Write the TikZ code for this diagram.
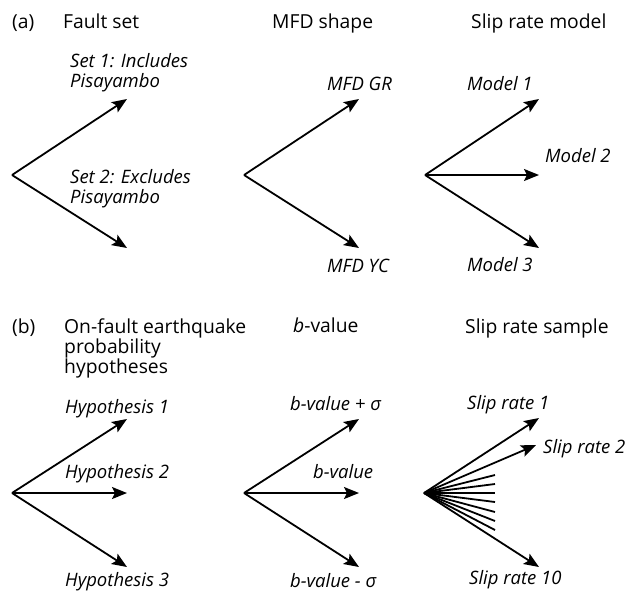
\documentclass[tikz,border=0pt]{standalone}
\usepackage{fontspec}
\setmainfont{Open Sans}
\usetikzlibrary{arrows.meta}
\tikzset{
  ttl/.style={anchor=base west, inner sep=0pt, font=\fontsize{19.3}{21}\selectfont},
  lbl/.style={anchor=base west, inner sep=0pt, font=\fontsize{18.5}{20}\selectfont\itshape},
  arr/.style={line width=1.8pt, -{Stealth[length=15pt,width=12pt,inset=3pt]}},
  ln/.style={line width=1.8pt},
}
\newcommand{\sig}{σ}
\begin{document}
\begin{tikzpicture}[x=1pt,y=-1pt]
\useasboundingbox (0,0) rectangle (628,595);
% panel (a) headers
\node[ttl] (pa) at (12,28) {(a)};
\node[ttl] (h1) at (63,28) {Fault set};
\node[ttl] (h2) at (272,28) {MFD shape};
\node[ttl] (h3) at (471,28) {Slip rate model};
% fault set
\coordinate (fa) at (12,175);
\coordinate (fa1) at (127,99);
\coordinate (fa2) at (127,248);
\draw[arr] (fa) -- (fa1);
\draw[arr] (fa) -- (fa2);
\node[lbl] (s1) at (70,67) {Set 1: Includes};
\node[lbl] (s1b) at (70,87) {Pisayambo};
\node[lbl] (s2) at (70,183) {Set 2: Excludes};
\node[lbl] (s2b) at (70,203) {Pisayambo};
% MFD
\coordinate (ma) at (244,175);
\coordinate (ma1) at (359,99);
\coordinate (ma2) at (359,248);
\draw[arr] (ma) -- (ma1);
\draw[arr] (ma) -- (ma2);
\node[lbl] (m1) at (327,90) {MFD GR};
\node[lbl] (m2) at (327,272) {MFD YC};
% slip rate model
\coordinate (sa) at (425,175);
\coordinate (sa1) at (539,99);
\coordinate (sa2) at (539,175);
\coordinate (sa3) at (539,248);
\draw[arr] (sa) -- (sa1);
\draw[arr] (sa) -- (sa2);
\draw[arr] (sa) -- (sa3);
\node[lbl] (md1) at (467,90) {Model 1};
\node[lbl] (md2) at (545,162) {Model 2};
\node[lbl] (md3) at (467,271) {Model 3};
% panel (b) headers
\node[ttl] (pb) at (12,333) {(b)};
\node[ttl] (h4) at (64,333) {On-fault earthquake};
\node[ttl] (h4b) at (64,353) {probability};
\node[ttl] (h4c) at (64,373) {hypotheses};
\node[ttl] (h5) at (293,332) {\textit{b}-value};
\node[ttl] (h6) at (465,333) {Slip rate sample};
% hypotheses
\coordinate (ha) at (12,493);
\coordinate (ha1) at (127,419);
\coordinate (ha2) at (127,493);
\coordinate (ha3) at (127,567);
\draw[arr] (ha) -- (ha1);
\draw[arr] (ha) -- (ha2);
\draw[arr] (ha) -- (ha3);
\node[lbl] (hy1) at (65,413) {Hypothesis 1};
\node[lbl] (hy2) at (65,478) {Hypothesis 2};
\node[lbl] (hy3) at (65,586) {Hypothesis 3};
% b-value
\coordinate (ba) at (244,493);
\coordinate (ba1) at (359,419);
\coordinate (ba2) at (359,493);
\coordinate (ba3) at (359,567);
\draw[arr] (ba) -- (ba1);
\draw[arr] (ba) -- (ba2);
\draw[arr] (ba) -- (ba3);
\node[lbl] (bv1) at (290,410) {b-value + \sig};
\node[lbl] (bv2) at (313,478) {b-value};
\node[lbl] (bv3) at (290,587) {b-value - \sig};
% slip rate sample
\coordinate (ra) at (424,493);
\coordinate (ra1) at (539,418);
\coordinate (ra2) at (536,445);
\coordinate (ra10) at (539,567);
\draw[arr] (ra) -- (ra1);
\draw[arr] (ra) -- (ra2);
\draw[arr] (ra) -- (ra10);
\foreach \i/\y in {3/475,4/484,5/493,6/502,7/512,8/521,9/530}{
  \coordinate (r\i) at (495,\y);
  \draw[ln] (ra) -- (r\i);
}
\node[lbl] (sr1) at (467,409) {Slip rate 1};
\node[lbl] (sr2) at (543,453) {Slip rate 2};
\node[lbl] (sr10) at (469,584) {Slip rate 10};
\end{tikzpicture}
\end{document}
